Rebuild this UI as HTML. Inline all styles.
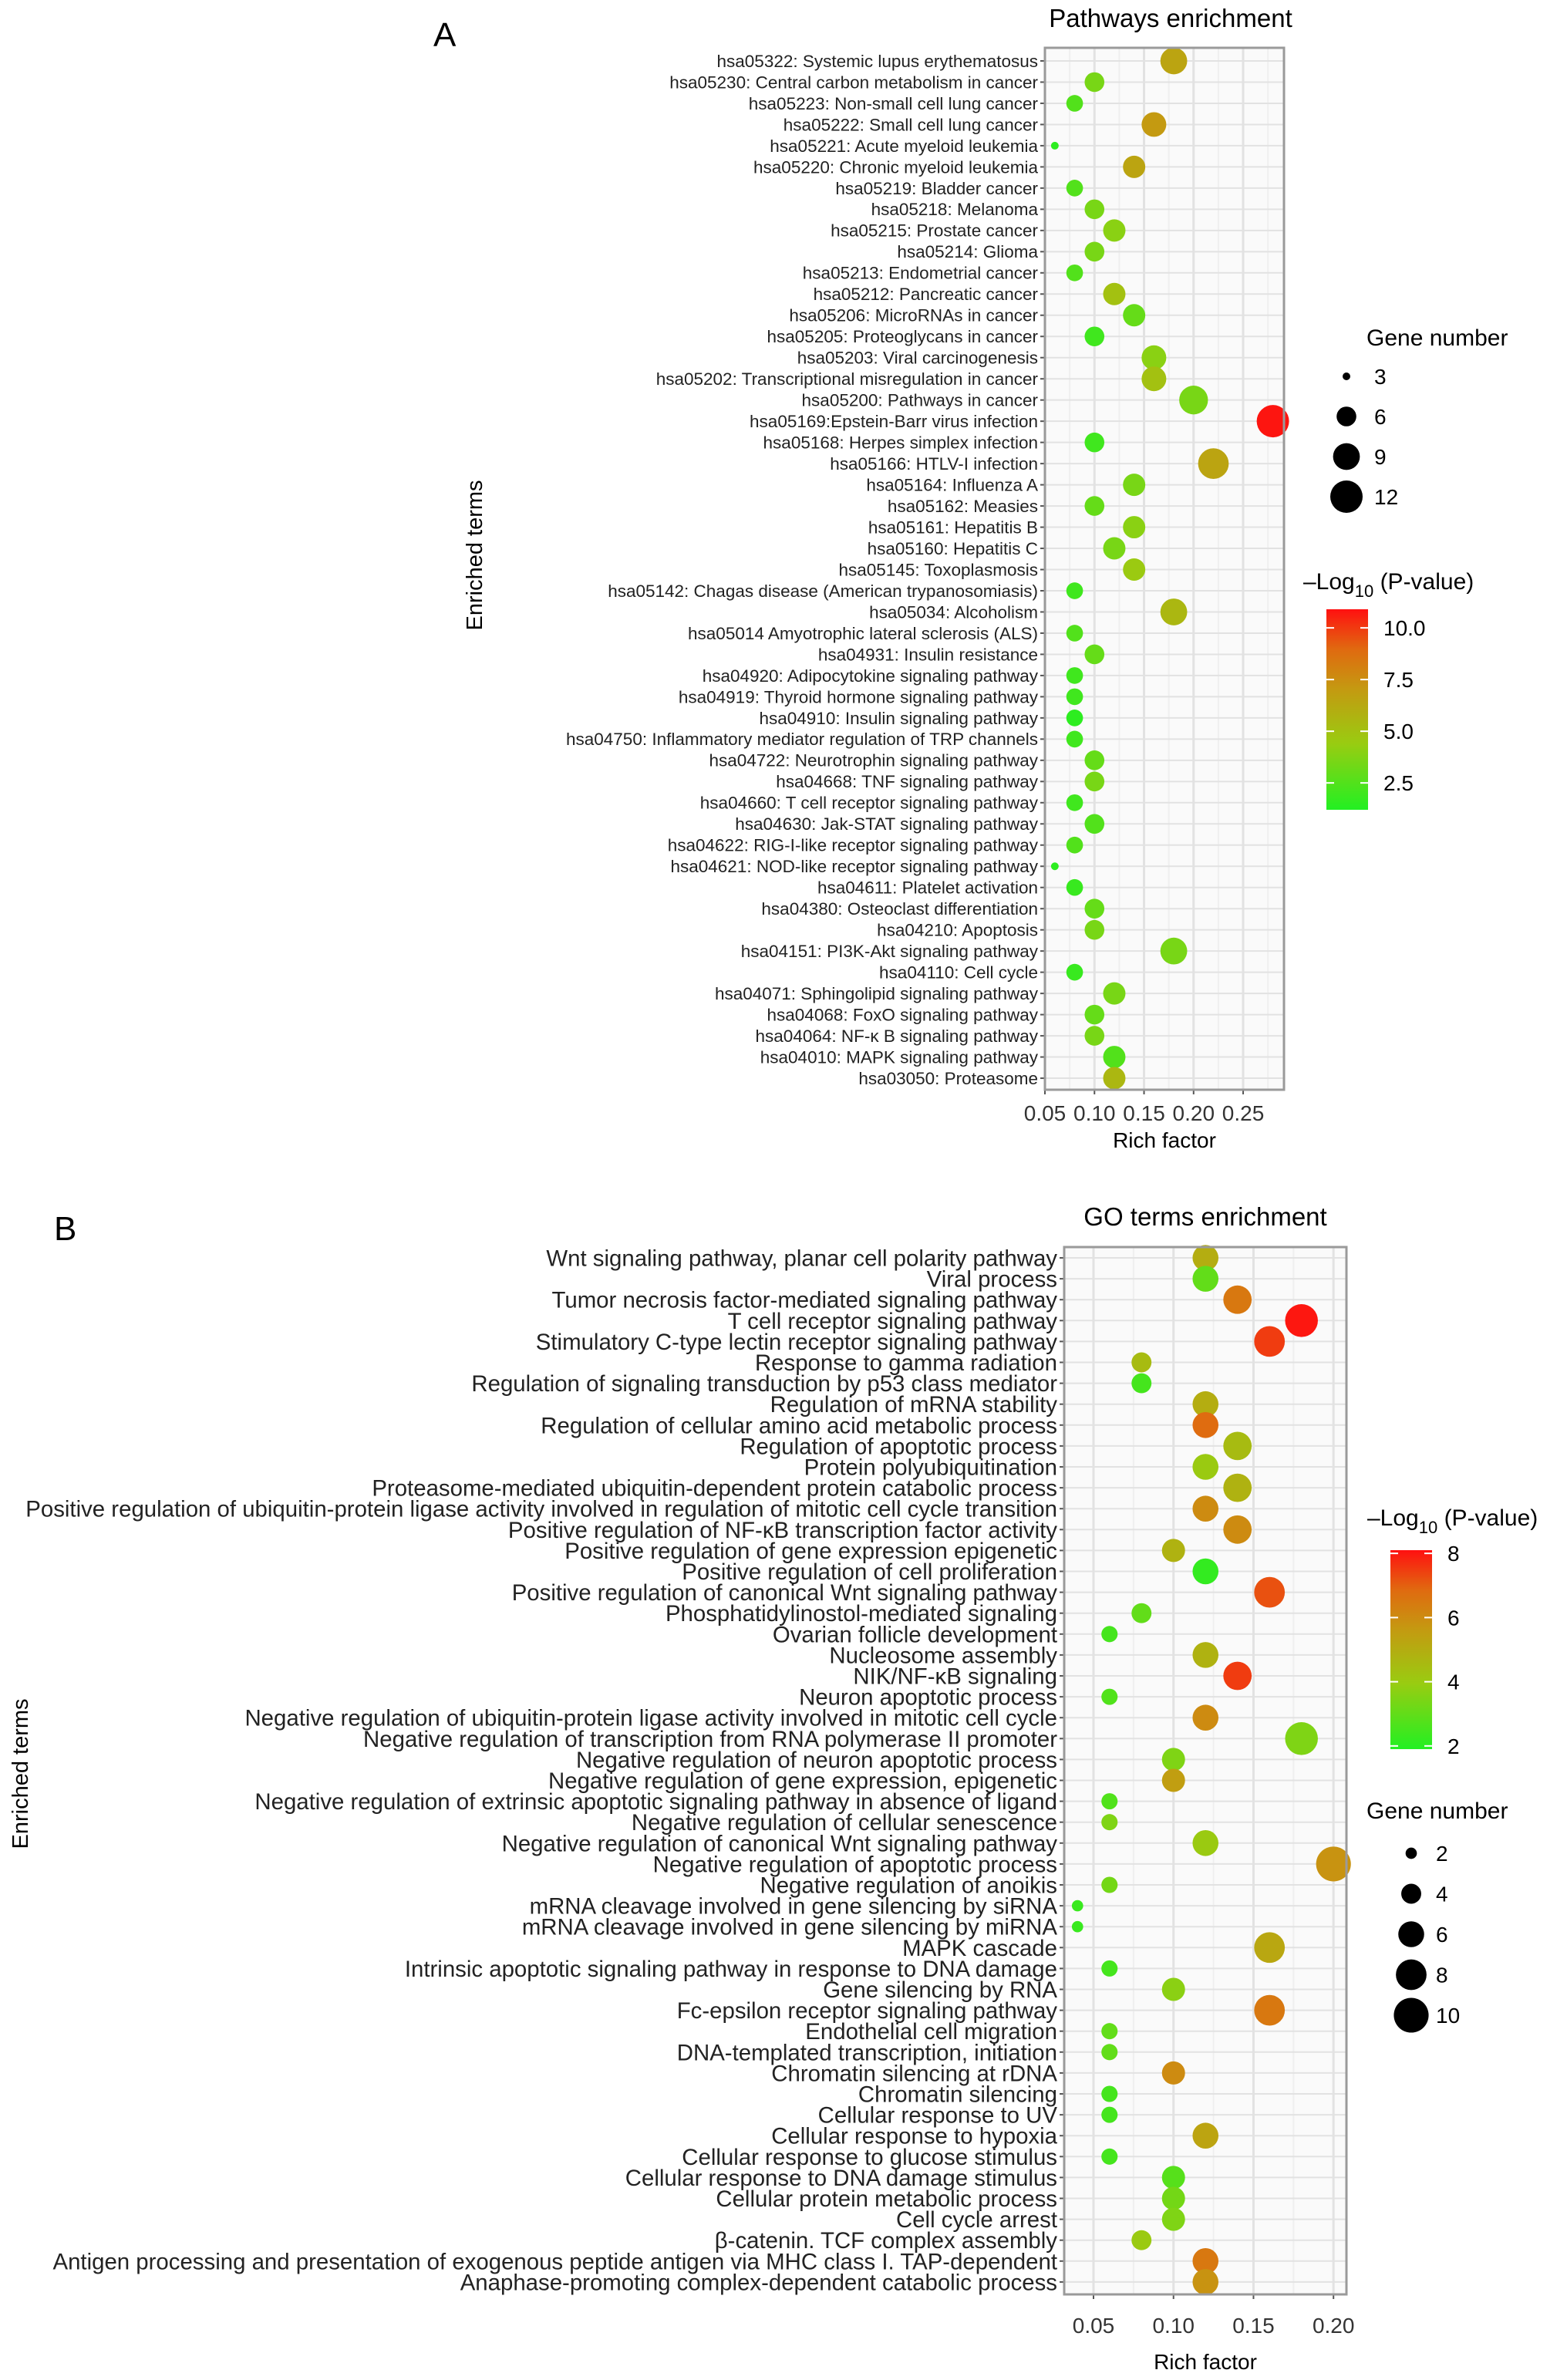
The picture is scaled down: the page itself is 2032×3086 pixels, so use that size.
<!DOCTYPE html>
<html><head><meta charset="utf-8"><style>
html,body{margin:0;padding:0;background:#fff}
svg{display:block;font-family:"Liberation Sans",sans-serif}
</style></head><body>
<svg id="chart" width="2032" height="3086" viewBox="0 0 2032 3086" xmlns="http://www.w3.org/2000/svg">
<defs>
<linearGradient id="cbar" x1="0" y1="1" x2="0" y2="0">
<stop offset="0" stop-color="#22f022"/><stop offset="0.33" stop-color="#99cc11"/><stop offset="0.6" stop-color="#c49a11"/><stop offset="0.8" stop-color="#e06a10"/><stop offset="1" stop-color="#ff1010"/>
</linearGradient>
</defs>
<text x="562" y="60" font-size="44">A</text>
<text x="70" y="1608" font-size="44">B</text>
<text x="1518" y="35" font-size="33" text-anchor="middle">Pathways enrichment</text>
<text x="1563" y="1589" font-size="33" text-anchor="middle">GO terms enrichment</text>
<text transform="translate(625,720) rotate(-90)" font-size="29" text-anchor="middle">Enriched terms</text>
<text transform="translate(36,2300) rotate(-90)" font-size="29" text-anchor="middle">Enriched terms</text>
<g id="gA"></g><g id="gB"></g>
</svg>
<script>
const NS="http://www.w3.org/2000/svg";
const catsA=["hsa05322: Systemic lupus erythematosus","hsa05230: Central carbon metabolism in cancer","hsa05223: Non-small cell lung cancer","hsa05222: Small cell lung cancer","hsa05221: Acute myeloid leukemia","hsa05220: Chronic myeloid leukemia","hsa05219: Bladder cancer","hsa05218: Melanoma","hsa05215: Prostate cancer","hsa05214: Glioma","hsa05213: Endometrial cancer","hsa05212: Pancreatic cancer","hsa05206: MicroRNAs in cancer","hsa05205: Proteoglycans in cancer","hsa05203: Viral carcinogenesis","hsa05202: Transcriptional misregulation in cancer","hsa05200: Pathways in cancer","hsa05169:Epstein-Barr virus infection","hsa05168: Herpes simplex infection","hsa05166: HTLV-I infection","hsa05164: Influenza A","hsa05162: Measies","hsa05161: Hepatitis B","hsa05160: Hepatitis C","hsa05145: Toxoplasmosis","hsa05142: Chagas disease (American trypanosomiasis)","hsa05034: Alcoholism","hsa05014 Amyotrophic lateral sclerosis (ALS)","hsa04931: Insulin resistance","hsa04920: Adipocytokine signaling pathway","hsa04919: Thyroid hormone signaling pathway","hsa04910: Insulin signaling pathway","hsa04750: Inflammatory mediator regulation of TRP channels","hsa04722: Neurotrophin signaling pathway","hsa04668: TNF signaling pathway","hsa04660: T cell receptor signaling pathway","hsa04630: Jak-STAT signaling pathway","hsa04622: RIG-I-like receptor signaling pathway","hsa04621: NOD-like receptor signaling pathway","hsa04611: Platelet activation","hsa04380: Osteoclast differentiation","hsa04210: Apoptosis","hsa04151: PI3K-Akt signaling pathway","hsa04110: Cell cycle","hsa04071: Sphingolipid signaling pathway","hsa04068: FoxO signaling pathway","hsa04064: NF-κ B signaling pathway","hsa04010: MAPK signaling pathway","hsa03050: Proteasome"];
const richA=[0.18,0.10,0.08,0.16,0.06,0.14,0.08,0.10,0.12,0.10,0.08,0.12,0.14,0.10,0.16,0.16,0.20,0.28,0.10,0.22,0.14,0.10,0.14,0.12,0.14,0.08,0.18,0.08,0.10,0.08,0.08,0.08,0.08,0.10,0.10,0.08,0.10,0.08,0.06,0.08,0.10,0.10,0.18,0.08,0.12,0.10,0.10,0.12,0.12];
const pvalA=[6.5,3.5,2.5,7,1.5,6.5,2.5,3.5,4,3.5,2.5,5,3,2,4,5,3.5,10.8,2,6.5,3.5,3,4,3.5,4.5,2,5.5,2.5,3,2,2,1.5,2,3,3.5,2,2.5,2.5,1.5,1.8,3,3.5,3.5,1.8,3.5,3,3.5,2.5,5.5];
const genesA=[9,6,5,8,3,7,5,6,7,6,5,7,7,6,8,8,10,12,6,11,7,6,7,7,7,5,9,5,6,5,5,5,5,6,6,5,6,5,3,5,6,6,9,5,7,6,6,7,7];
const ticksA=[0.05,0.10,0.15,0.20,0.25];
const legGenesA=[3,6,9,12];
const cbTicksA=[2.5,5.0,7.5,10.0];

const catsB=["Wnt signaling pathway, planar cell polarity pathway","Viral process","Tumor necrosis factor-mediated signaling pathway","T cell receptor signaling pathway","Stimulatory C-type lectin receptor signaling pathway","Response to gamma radiation","Regulation of signaling transduction by p53 class mediator","Regulation of mRNA stability","Regulation of cellular amino acid metabolic process","Regulation of apoptotic process","Protein polyubiquitination","Proteasome-mediated ubiquitin-dependent protein catabolic process","Positive regulation of ubiquitin-protein ligase activity involved in regulation of mitotic cell cycle transition","Positive regulation of NF-κB transcription factor activity","Positive regulation of gene expression epigenetic","Positive regulation of cell proliferation","Positive regulation of canonical Wnt signaling pathway","Phosphatidylinostol-mediated signaling","Ovarian follicle development","Nucleosome assembly","NIK/NF-κB signaling","Neuron apoptotic process","Negative regulation of ubiquitin-protein ligase activity involved in mitotic cell cycle","Negative regulation of transcription from RNA polymerase II promoter","Negative regulation of neuron apoptotic process","Negative regulation of gene expression, epigenetic","Negative regulation of extrinsic apoptotic signaling pathway in absence of ligand","Negative regulation of cellular senescence","Negative regulation of canonical Wnt signaling pathway","Negative regulation of apoptotic process","Negative regulation of anoikis","mRNA cleavage involved in gene silencing by siRNA","mRNA cleavage involved in gene silencing by miRNA","MAPK cascade","Intrinsic apoptotic signaling pathway in response to DNA damage","Gene silencing by RNA","Fc-epsilon receptor signaling pathway","Endothelial cell migration","DNA-templated transcription, initiation","Chromatin silencing at rDNA","Chromatin silencing","Cellular response to UV","Cellular response to hypoxia","Cellular response to glucose stimulus","Cellular response to DNA damage stimulus","Cellular protein metabolic process","Cell cycle arrest","β-catenin. TCF complex assembly","Antigen processing and presentation of exogenous peptide antigen via MHC class I. TAP-dependent","Anaphase-promoting complex-dependent catabolic process"];
const richB=[0.12,0.12,0.14,0.18,0.16,0.08,0.08,0.12,0.12,0.14,0.12,0.14,0.12,0.14,0.10,0.12,0.16,0.08,0.06,0.12,0.14,0.06,0.12,0.18,0.10,0.10,0.06,0.06,0.12,0.20,0.06,0.04,0.04,0.16,0.06,0.10,0.16,0.06,0.06,0.10,0.06,0.06,0.12,0.06,0.10,0.10,0.10,0.08,0.12,0.12];
const pvalB=[5,3,6.5,8,7.5,4.5,2.5,5,6.8,4.5,4,4.8,6,6,4.8,2.2,7.2,3,2.5,4.8,7.5,2.7,6,3.5,3.5,5.5,2.7,3.5,4,5.8,3.3,2.3,2.3,5.2,2.5,3.7,6.5,3,3,6,2.5,2.5,5.3,2.5,2.8,3.3,3.5,4,6.5,5.8];
const genesB=[6,6,7,9,8,4,4,6,6,7,6,7,6,7,5,6,8,4,3,6,7,3,6,9,5,5,3,3,6,10,3,2,2,8,3,5,8,3,3,5,3,3,6,3,5,5,5,4,6,6];
const ticksB=[0.05,0.10,0.15,0.20];
const legGenesB=[2,4,6,8,10];
const cbTicksB=[2,4,6,8];

const stops=[[0,[0x22,0xf0,0x22]],[0.33,[0x99,0xcc,0x11]],[0.6,[0xc4,0x9a,0x11]],[0.8,[0xe0,0x6a,0x10]],[1,[0xff,0x10,0x10]]];
function col(p,lo,hi){let t=Math.max(0,Math.min(1,(p-lo)/(hi-lo)));
 for(let i=1;i<stops.length;i++){if(t<=stops[i][0]){const a=stops[i-1],b=stops[i];const u=(t-a[0])/(b[0]-a[0]);
 const c=a[1].map((v,k)=>Math.round(v+(b[1][k]-v)*u));return `rgb(${c[0]},${c[1]},${c[2]})`;}}return "rgb(255,16,16)";}
function mk(parent,tag,attrs,text){const e=document.createElementNS(NS,tag);for(const k in attrs)e.setAttribute(k,attrs[k]);if(text!==undefined)e.textContent=text;parent.appendChild(e);return e;}

function panel(g,cfg){
 const {cats,rich,pval,genes,ticks,legGenes,cbTicks,x0,x1,y0,y1,rowY0,rowStep,xv0,xv1,lo,hi,rA,rB,labFs,labScale,tickY,titleY,leg}=cfg;
 const X=v=>x0+(v-xv0)/(xv1-xv0)*(x1-x0);
 const Y=i=>rowY0+i*rowStep;
 const R=n=>Math.sqrt(Math.max(16,rA+rB*n));
 const bg=mk(g,'rect',{x:x0,y:y0,width:x1-x0,height:y1-y0,fill:'#fafafa'});
 
 
 for(let i=0;i<ticks.length;i++){const v=ticks[i];
  mk(g,'line',{x1:X(v),x2:X(v),y1:y0,y2:y1,stroke:'#e2e2e2','stroke-width':3});
  const m=v+0.025; if(X(m)<x1) mk(g,'line',{x1:X(m),x2:X(m),y1:y0,y2:y1,stroke:'#efefef','stroke-width':2});
  const t=mk(g,'text',{x:X(v),y:tickY,'font-size':28,'text-anchor':'middle',fill:'#333'},v.toFixed(2));
  
  
  mk(g,'line',{x1:X(v),x2:X(v),y1:y1,y2:y1+6,stroke:'#555','stroke-width':2});
 }
 const lm=ticks[0]-0.025; if(X(lm)>x0) mk(g,'line',{x1:X(lm),x2:X(lm),y1:y0,y2:y1,stroke:'#efefef','stroke-width':2});
 for(let i=0;i<cats.length;i++){
  mk(g,'line',{x1:x0,x2:x1,y1:Y(i),y2:Y(i),stroke:'#e2e2e2','stroke-width':2});
  mk(g,'line',{x1:x0-6,x2:x0,y1:Y(i),y2:Y(i),stroke:'#555','stroke-width':2});
  const t=mk(g,'text',{x:0,y:0,'font-size':labFs,'text-anchor':'end',fill:'#222',transform:`translate(${x0-9},${Y(i)+labFs*0.35}) scale(${labScale},1)`},cats[i]);
  
  
 }
 for(let i=0;i<cats.length;i++){
  const c=mk(g,'circle',{cx:X(rich[i]),cy:Y(i),r:R(genes[i]),fill:col(pval[i],lo,hi)});
  
  
 }
 const fr=mk(g,'rect',{x:x0,y:y0,width:x1-x0,height:y1-y0,fill:'none',stroke:'#9a9a9a','stroke-width':3});
 
 
 const xt=mk(g,'text',{x:(x0+x1)/2,y:titleY,'font-size':28,'text-anchor':'middle'},'Rich factor');
 
 
 const st=mk(g,'text',{x:leg.sx,y:leg.sTitleY,'font-size':30},'Gene number');
 
 
 for(let k=0;k<legGenes.length;k++){const yy=leg.sy0+k*leg.sStep;
  const c=mk(g,'circle',{cx:leg.scx,cy:yy,r:R(legGenes[k]),fill:'#000'});
  
  
  const t=mk(g,'text',{x:leg.slx,y:yy+10,'font-size':28},String(legGenes[k]));
  
  
 }
 const ct=mk(g,'text',{x:leg.cx-30,y:leg.cTitleY,'font-size':30});
 
 
 ct.innerHTML='–Log<tspan font-size="22" dy="10">10</tspan><tspan dy="-10"> (P-value)</tspan>';
 const cb=mk(g,'rect',{x:leg.cx,y:leg.cy0,width:54,height:leg.cy1-leg.cy0,fill:'url(#cbar)'});
 
 
 const CY=v=>leg.cy1-(v-lo)/(hi-lo)*(leg.cy1-leg.cy0);
 for(let k=0;k<cbTicks.length;k++){const v=cbTicks[k];
  mk(g,'line',{x1:leg.cx,x2:leg.cx+10,y1:CY(v),y2:CY(v),stroke:'#fff','stroke-width':2});
  mk(g,'line',{x1:leg.cx+44,x2:leg.cx+54,y1:CY(v),y2:CY(v),stroke:'#fff','stroke-width':2});
  const t=mk(g,'text',{x:leg.cx+74,y:CY(v)+10,'font-size':28},leg.fmt(v));
  
  
 }
}
panel(document.getElementById('gA'),{cats:catsA,rich:richA,pval:pvalA,genes:genesA,ticks:ticksA,legGenes:legGenesA,cbTicks:cbTicksA,
 x0:1355,x1:1665,y0:62,y1:1413,rowY0:79,rowStep:27.48,xv0:0.05,xv1:0.2912,lo:1.2,hi:10.9,rA:-113.7,rB:46.2,labFs:22.5,labScale:1,tickY:1453,titleY:1488,
 leg:{sx:1772,sTitleY:448,scx:1746,sy0:488,sStep:52,slx:1782,cx:1720,cy0:790,cy1:1050,cTitleY:764,fmt:v=>v.toFixed(1)}});
panel(document.getElementById('gB'),{cats:catsB,rich:richB,pval:pvalB,genes:genesB,ticks:ticksB,legGenes:legGenesB,cbTicks:cbTicksB,
 x0:1380,x1:1746,y0:1617,y1:2975,rowY0:1631,rowStep:27.1,xv0:0.03168,xv1:0.2081,lo:1.9,hi:8.1,rA:-60,rB:56.9,labFs:30,labScale:0.98,tickY:3025,titleY:3072,
 leg:{sx:1772,sTitleY:2358,scx:1830,sy0:2403,sStep:52.5,slx:1862,cx:1803,cy0:2010,cy1:2268,cTitleY:1978,fmt:v=>String(v)}});
</script>
</body></html>
